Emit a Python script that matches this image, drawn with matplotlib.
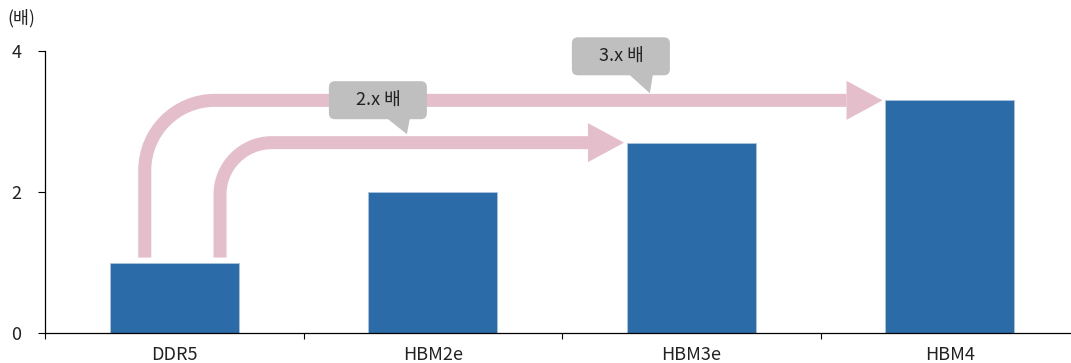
import numpy as np
import matplotlib
matplotlib.use("Agg")
import matplotlib.pyplot as plt
from matplotlib.path import Path
from matplotlib.patches import PathPatch, Polygon, FancyBboxPatch
from matplotlib.transforms import IdentityTransform

plt.rcParams['font.family'] = ['Noto Sans CJK KR', 'DejaVu Sans']

categories = ['DDR5', 'HBM2e', 'HBM3e', 'HBM4']
values = [1.0, 2.0, 2.7, 3.3]
yticks = [0, 2, 4]
unit_label = '(배)'

# arrows: (source bar, x offset from source centre, target bar, callout text)
arrows = [
    (0, 0.177, 2, '2.x 배'),
    (0, -0.114, 3, '3.x 배'),
]

BAR_COLOR = '#2b6ba8'
ARROW_COLOR = '#e4bfcb'
CALLOUT_COLOR = '#bfbfbf'
TEXT_COLOR = '#222222'
BAR_W = 0.5

fig = plt.figure(figsize=(10.71, 3.63), dpi=100)
ax = fig.add_axes([45 / 1071, 30 / 363, 1034 / 1071, 282 / 363])

x = np.arange(len(categories))
ax.bar(x, values, width=BAR_W, color=BAR_COLOR, edgecolor='#a9c4e0', linewidth=0.6, zorder=2)

ax.set_xlim(-0.5, len(categories) - 0.5)
ax.set_ylim(0, 4)
ax.set_yticks(yticks)
ax.set_xticks(np.arange(len(categories) + 1) - 0.5, minor=False)
ax.set_xticklabels([])
ax.set_xticks(x, minor=True)
ax.set_xticklabels(categories, minor=True)
ax.tick_params(axis='x', which='major', direction='out', length=4, width=0.8)
ax.tick_params(axis='x', which='minor', length=0, pad=9, labelsize=13, labelcolor=TEXT_COLOR)
ax.tick_params(axis='y', direction='out', length=5, width=0.8, pad=12, labelsize=13, labelcolor=TEXT_COLOR)
for s in ['top', 'right']:
    ax.spines[s].set_visible(False)
for s in ['left', 'bottom']:
    ax.spines[s].set_linewidth(0.9)

fig.text(7 / 1071, 1 - 18 / 363, unit_label, fontsize=12.5, color=TEXT_COLOR, va='center', ha='left')

ident = IdentityTransform()
k = 0.5523
px = 0.72  # points per pixel at 100 dpi


def bend_arrow(x0, y0, x1, y1, r, lw, head_len, head_w):
    """Vertical run up from (x0, y0), rounded corner, then right to the tip at (x1, y1); display pixels."""
    verts = [(x0, y0), (x0, y1 - r),
             (x0, y1 - r + k * r), (x0 + r - k * r, y1), (x0 + r, y1),
             (x1 - head_len, y1)]
    codes = [Path.MOVETO, Path.LINETO, Path.CURVE4, Path.CURVE4, Path.CURVE4, Path.LINETO]
    ax.add_patch(PathPatch(Path(verts, codes), fill=False, edgecolor=ARROW_COLOR,
                           linewidth=lw * px, capstyle='butt', joinstyle='miter',
                           transform=ident, clip_on=False, zorder=3))
    ax.add_patch(Polygon([(x1 - head_len, y1 + head_w / 2), (x1, y1), (x1 - head_len, y1 - head_w / 2)],
                         closed=True, facecolor=ARROW_COLOR, edgecolor='none',
                         transform=ident, clip_on=False, zorder=3))


def callout(tip, text, dx_box, dy_box, w, h, base):
    """Rounded grey box whose tail points down at tip; dx/dy place the box centre from the tip."""
    tx, ty = tip
    cx, cy = tx + dx_box, ty + dy_box
    bottom = cy - h / 2
    ax.add_patch(FancyBboxPatch((cx - w / 2 + 5, bottom + 5), w - 10, h - 10,
                                boxstyle='round,pad=5,rounding_size=6', facecolor=CALLOUT_COLOR,
                                edgecolor='none', transform=ident, clip_on=False, zorder=4))
    ax.add_patch(Polygon([(base[0], bottom + 1), (base[1], bottom + 1), (tx, ty)], closed=True,
                         facecolor=CALLOUT_COLOR, edgecolor='none', transform=ident,
                         clip_on=False, zorder=4))
    ax.text(cx, cy, text, transform=ident, ha='center', va='center', fontsize=13,
            color=TEXT_COLOR, zorder=5)


radii = [52, 70]
for (src, off, dst, label), r in zip(arrows, radii):
    sx, sy = ax.transData.transform((src + off, values[src] + 0.07))
    ex, ey = ax.transData.transform((dst - BAR_W / 2 - 0.01, values[dst]))
    bend_arrow(sx, sy, ex, ey, r, 13, 36, 39)

# callouts sit just above the arrow shafts
tip1 = ax.transData.transform((0.90, values[2] + 0.12))
callout(tip1, arrows[0][3], -29, 34, 98, 38, (tip1[0] - 20, tip1[0] + 3))
tip2 = ax.transData.transform((1.84, values[3] + 0.10))
callout(tip2, arrows[1][3], -29, 37, 98, 38, (tip2[0] - 21, tip2[0] + 3))

fig.savefig('out.png', dpi=100)
